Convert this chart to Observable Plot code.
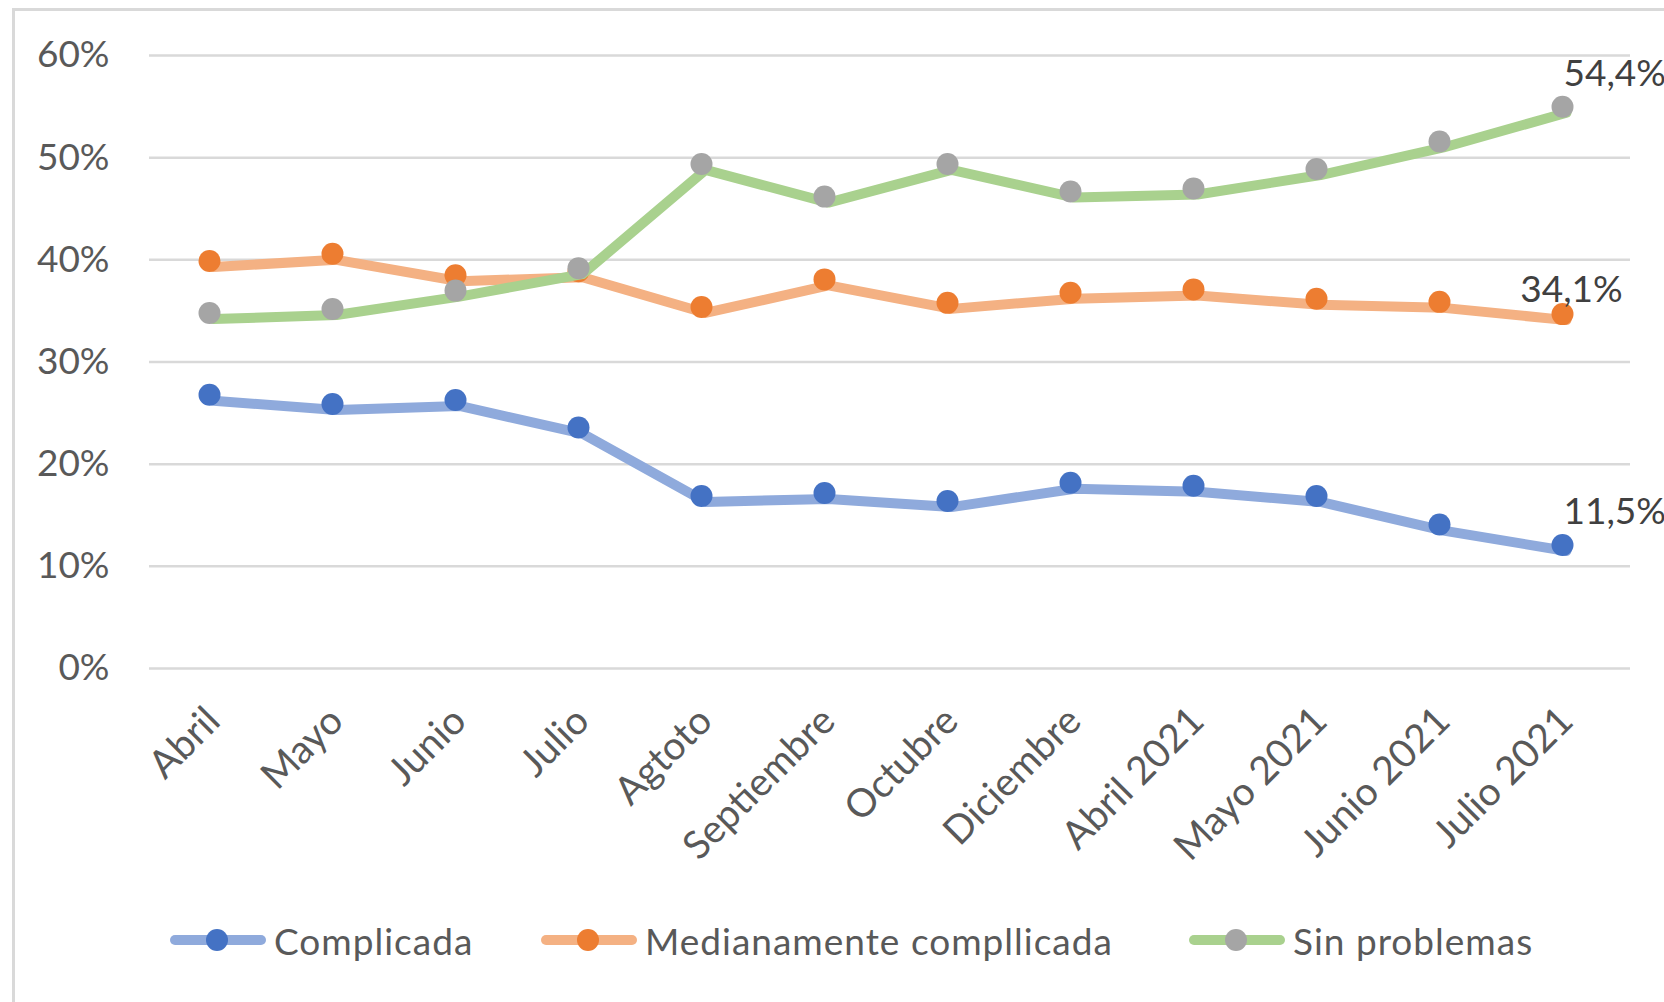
<!DOCTYPE html>
<html>
<head>
<meta charset="utf-8">
<script src="https://cdn.jsdelivr.net/npm/d3@7"></script>
<script src="https://cdn.jsdelivr.net/npm/@observablehq/plot@0.6"></script>
<style>
  html, body { margin: 0; padding: 0; background: #fff; width: 1664px; height: 1002px; overflow: hidden; }
  body { position: relative; font-family: Lato, "Open Sans", sans-serif; }
  #frame { position: absolute; left: 12px; top: 8px; width: 1720px; height: 1100px;
           border-left: 3px solid #D9D9D9; border-top: 3px solid #D9D9D9; pointer-events: none; }
  #chart svg { display: block; }
  #legend { position: relative; height: 60px; margin-top: 30px; }
  .item { position: absolute; top: 0; height: 60px; display: flex; align-items: center;
          font-size: 37px; color: #595959; white-space: nowrap; letter-spacing: 1px; }
  .item span { margin-left: 8px; }
</style>
</head>
<body>
<div id="chart"></div>
<div id="legend"></div>
<div id="frame"></div>
<script>
// ---- data ----
const months = ["Abril", "Mayo", "Junio", "Julio", "Agtoto", "Septiembre", "Octubre", "Diciembre",
                "Abril 2021", "Mayo 2021", "Junio 2021", "Julio 2021"];
const seriesNames = ["Complicada", "Medianamente compllicada", "Sin problemas"];
const complicada   = [26.2, 25.3, 25.7, 23.0, 16.3, 16.6, 15.8, 17.6, 17.3, 16.3, 13.5, 11.5];
const medianamente = [39.3, 40.0, 37.9, 38.3, 34.8, 37.5, 35.2, 36.2, 36.5, 35.6, 35.3, 34.1];
const sinProblemas = [34.2, 34.6, 36.4, 38.6, 48.8, 45.6, 48.8, 46.1, 46.4, 48.3, 51.0, 54.4];
const yTicks = [0, 0.1, 0.2, 0.3, 0.4, 0.5, 0.6];

const lineColors = ["#8FAADC", "#F4B183", "#A9D18E"];
const dotColors  = ["#4472C4", "#ED7D31", "#A5A5A5"];
const valuesBySeries = [complicada, medianamente, sinProblemas];

const rowsBySeries = valuesBySeries.map((vals, s) =>
  months.map((m, i) => ({month: m, serie: seriesNames[s], v: vals[i] / 100})));

const fmt = v => (v * 100).toFixed(1).replace(".", ",") + "%";
const lastRows = rowsBySeries.map(r => r[r.length - 1]);

const marks = [
  Plot.gridY(yTicks, {stroke: "#D9D9D9", strokeOpacity: 1, strokeWidth: 2.5}),
  Plot.axisY(yTicks, {tickFormat: d3.format(".0%"), tickSize: 0, tickPadding: 40, fontSize: 37, label: null, fill: "#595959"}),
  Plot.axisX({tickSize: 0, tickRotate: -45, tickPadding: 46, fontSize: 39, label: null, fill: "#595959"})
];
rowsBySeries.forEach((rows, s) => {
  marks.push(Plot.line(rows, {x: "month", y: "v", stroke: lineColors[s], strokeWidth: 10,
                              strokeLinecap: "round", strokeLinejoin: "round"}));
  marks.push(Plot.dot(rows, {x: "month", y: "v", r: 11, fill: dotColors[s], stroke: "none", dx: -4, dy: -6}));
});
// data labels on the last point
marks.push(Plot.text([lastRows[0], lastRows[2]], {x: "month", y: "v", text: d => fmt(d.v),
  textAnchor: "start", dx: -3, dy: -39, fontSize: 37, fill: "#404040"}));
marks.push(Plot.text([lastRows[1]], {x: "month", y: "v", text: d => fmt(d.v),
  textAnchor: "middle", dx: 5, dy: -30, fontSize: 37, fill: "#404040"}));

const chart = Plot.plot({
  width: 1664,
  height: 880,
  marginLeft: 149,
  marginRight: 34,
  marginTop: 55,
  marginBottom: 212,
  style: {fontFamily: "Lato, 'Open Sans', sans-serif", fontSize: "37px", color: "#595959", overflow: "visible"},
  x: {type: "point", domain: months, padding: 0.5},
  y: {domain: [0, 0.6]},
  marks
});
document.getElementById("chart").appendChild(chart);

// ---- legend ----
const legend = document.getElementById("legend");
const lefts = [170, 541, 1189];
seriesNames.forEach((name, s) => {
  const item = document.createElement("div");
  item.className = "item";
  item.style.left = lefts[s] + "px";
  item.innerHTML = `<svg width="96" height="24"><line x1="5" x2="91" y1="12" y2="12" stroke="${lineColors[s]}" stroke-width="10" stroke-linecap="round"/><circle cx="47" cy="12" r="11" fill="${dotColors[s]}"/></svg><span>${name}</span>`;
  legend.appendChild(item);
});
</script>
</body>
</html>
